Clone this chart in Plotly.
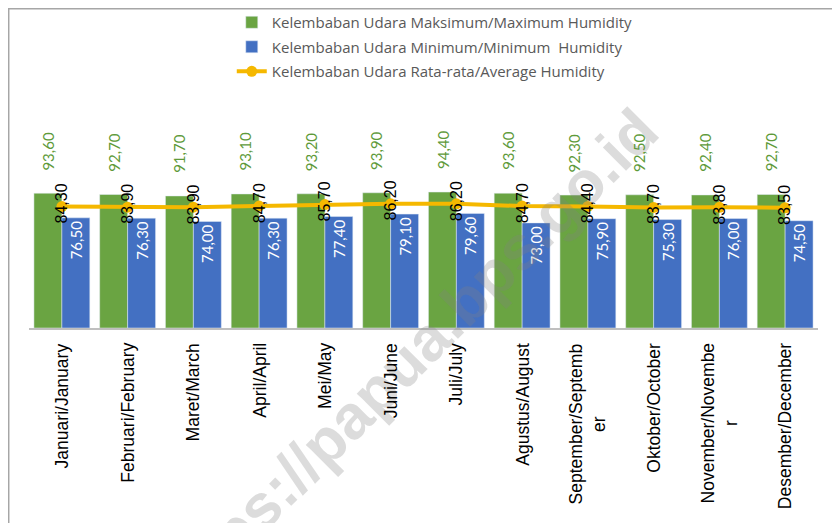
import plotly.graph_objects as go

months = [
    "Januari/January", "Februari/February", "Maret/March", "April/April",
    "Mei/May", "Juni/June", "Juli/July", "Agustus/August",
    "September/Septemb<br>er", "Oktober/October", "November/Novembe<br>r",
    "Desember/December",
]
hum_max = [93.6, 92.7, 91.7, 93.1, 93.2, 93.9, 94.4, 93.6, 92.3, 92.5, 92.4, 92.7]
hum_min = [76.5, 76.3, 74.0, 76.3, 77.4, 79.1, 79.6, 73.0, 75.9, 75.3, 76.0, 74.5]
hum_avg = [84.3, 83.9, 83.9, 84.7, 85.7, 86.2, 86.2, 84.7, 84.4, 83.7, 83.8, 83.5]

name_max = "Kelembaban Udara Maksimum/Maximum Humidity"
name_min = "Kelembaban Udara Minimum/Minimum  Humidity"
name_avg = "Kelembaban Udara Rata-rata/Average Humidity"


def fmt(v):
    return f"{v:.2f}".replace(".", ",")


GREEN = "#6aa442"
BLUE = "#4370c2"
GOLD = "#f5b800"

fig = go.Figure()
fig.add_trace(go.Bar(
    x=months, y=hum_max, name=name_max, marker_color=GREEN,
    legendgroup="a",
))
fig.add_trace(go.Bar(
    x=months, y=hum_min, name=name_min, marker_color=BLUE,
    text=[fmt(v) for v in hum_min], textposition="inside",
    insidetextanchor="end", textangle=-90, constraintext="none",
    textfont=dict(color="white", size=15, family="Lato"),
    legendgroup="b",
))
fig.add_trace(go.Scatter(
    x=months, y=hum_avg, name=name_avg, mode="lines+markers",
    line=dict(color=GOLD, width=4),
    marker=dict(color=GOLD, size=11),
    legendgroup="c",
))

# watermark first so the labels are drawn over it
annotations = [dict(
    x=0.478, y=-0.229, xref="paper", yref="paper",
    xanchor="center", yanchor="middle",
    text="<b>https://papua.bps.go.id</b>", showarrow=False, textangle=-45,
    font=dict(color="rgba(130,130,130,0.28)", size=62, family="Liberation Sans"),
)]
for m, vmax, vavg in zip(months, hum_max, hum_avg):
    annotations.append(dict(
        x=m, y=vmax, xref="x", yref="y", text=fmt(vmax), showarrow=False,
        textangle=-90, yanchor="bottom", yshift=21, xshift=-14,
        font=dict(color="#5e9a3a", size=15, family="Lato"),
    ))
    annotations.append(dict(
        x=m, y=vavg, xref="x", yref="y", text=fmt(vavg), showarrow=False,
        textangle=-90, yshift=3,
        font=dict(color="black", size=16, family="Liberation Sans"),
    ))
    annotations.append(dict(
        x=m, y=0, xref="x", yref="y", text=m, showarrow=False,
        textangle=-90, yanchor="top", yshift=-13, align="center",
        font=dict(color="black", size=17.5, family="Liberation Sans"),
    ))

# the page body adds an 8px offset, so the layout is shifted up-left by 8px
fig.update_layout(
    width=840, height=523,
    margin=dict(l=21, r=30, t=176, b=203, autoexpand=False),
    plot_bgcolor="white", paper_bgcolor="white",
    barmode="group", bargap=0.15, bargroupgap=0,
    showlegend=True,
    legend=dict(
        x=0.257, y=2.236, xanchor="left", yanchor="top",
        font=dict(color="#595959", size=15, family="Open Sans"),
        tracegroupgap=2, bgcolor="rgba(0,0,0,0)",
    ),
    xaxis=dict(
        range=[-0.5, 11.5],
        showticklabels=False, showline=True, linecolor="#bfbfbf",
        linewidth=1.5, showgrid=False, zeroline=False,
    ),
    yaxis=dict(
        range=[0, 100], visible=False, showgrid=False, zeroline=False,
    ),
    annotations=annotations,
    shapes=[dict(
        type="rect", xref="paper", yref="paper",
        x0=-0.0257, x1=1.05, y0=-1.5, y1=2.217,
        line=dict(color="#a6a6a6", width=1.5),
    )],
)

fig.write_html("out.html")
